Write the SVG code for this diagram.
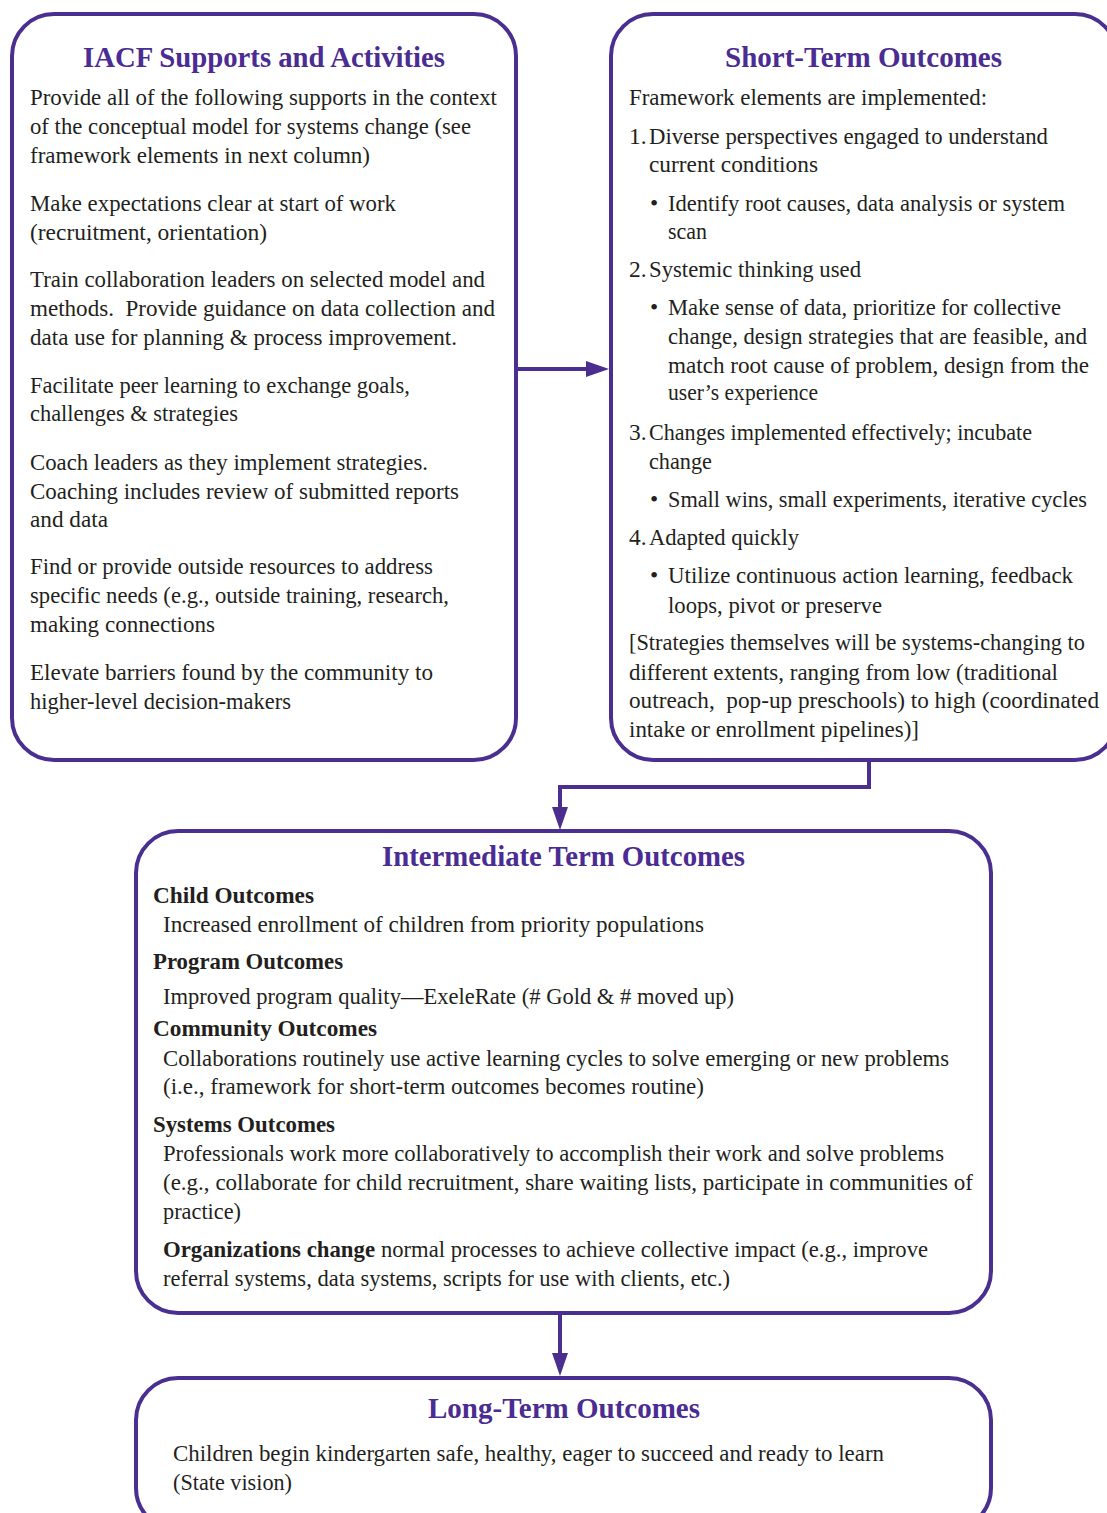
<svg xmlns="http://www.w3.org/2000/svg" width="1107" height="1513" viewBox="0 0 1107 1513">
<style>
.box{fill:#fff;stroke:#4a2f90;stroke-width:4}
.title{font-family:"Liberation Serif",serif;font-weight:bold;font-size:28.5px;fill:#4a2c92}
.t{font-family:"Liberation Serif",serif;font-size:23.5px;fill:#231f20}
.b{font-family:"Liberation Serif",serif;font-size:23.5px;font-weight:bold;fill:#231f20}
.conn{fill:none;stroke:#4a2f90;stroke-width:4}
</style>
<defs>
<marker id="ah" markerUnits="userSpaceOnUse" markerWidth="23" markerHeight="16" refX="10" refY="8" orient="auto">
<path d="M0,0 L23,8 L0,16 z" fill="#4a2f90"/>
</marker>
</defs>
<rect width="1107" height="1513" fill="#fff"/>

<g id="connectors">
<path class="conn" d="M516,369 H596" marker-end="url(#ah)"/>
<path class="conn" d="M869,760 V787 H560 V817" marker-end="url(#ah)"/>
<path class="conn" d="M560,1313 V1363" marker-end="url(#ah)"/>
</g>

<g id="iacf-supports">
<rect class="box" x="12" y="14" width="504" height="746" rx="42"/>
<text class="title" x="83" y="67" textLength="362" lengthAdjust="spacingAndGlyphs">IACF Supports and Activities</text>
<text class="t" x="30" y="105" textLength="467" lengthAdjust="spacingAndGlyphs">Provide all of the following supports in the context</text>
<text class="t" x="30" y="134" textLength="441" lengthAdjust="spacingAndGlyphs">of the conceptual model for systems change (see</text>
<text class="t" x="30" y="163" textLength="340" lengthAdjust="spacingAndGlyphs">framework elements in next column)</text>
<text class="t" x="30" y="211" textLength="366" lengthAdjust="spacingAndGlyphs">Make expectations clear at start of work</text>
<text class="t" x="30" y="240" textLength="237" lengthAdjust="spacingAndGlyphs">(recruitment, orientation)</text>
<text class="t" x="30" y="287" textLength="455" lengthAdjust="spacingAndGlyphs">Train collaboration leaders on selected model and</text>
<text class="t" x="30" y="316" textLength="465" lengthAdjust="spacingAndGlyphs">methods.&#160; Provide guidance on data collection and</text>
<text class="t" x="30" y="345" textLength="427" lengthAdjust="spacingAndGlyphs">data use for planning &amp; process improvement.</text>
<text class="t" x="30" y="393" textLength="380" lengthAdjust="spacingAndGlyphs">Facilitate peer learning to exchange goals,</text>
<text class="t" x="30" y="421" textLength="208" lengthAdjust="spacingAndGlyphs">challenges &amp; strategies</text>
<text class="t" x="30" y="470" textLength="398" lengthAdjust="spacingAndGlyphs">Coach leaders as they implement strategies.</text>
<text class="t" x="30" y="499" textLength="429" lengthAdjust="spacingAndGlyphs">Coaching includes review of submitted reports</text>
<text class="t" x="30" y="527" textLength="78" lengthAdjust="spacingAndGlyphs">and data</text>
<text class="t" x="30" y="574" textLength="403" lengthAdjust="spacingAndGlyphs">Find or provide outside resources to address</text>
<text class="t" x="30" y="603" textLength="419" lengthAdjust="spacingAndGlyphs">specific needs (e.g., outside training, research,</text>
<text class="t" x="30" y="632" textLength="185" lengthAdjust="spacingAndGlyphs">making connections</text>
<text class="t" x="30" y="680" textLength="403" lengthAdjust="spacingAndGlyphs">Elevate barriers found by the community to</text>
<text class="t" x="30" y="709" textLength="261" lengthAdjust="spacingAndGlyphs">higher-level decision-makers</text>
</g>

<g id="short-term-outcomes">
<rect class="box" x="611" y="14" width="506" height="746" rx="42"/>
<text class="title" x="725" y="67" textLength="277" lengthAdjust="spacingAndGlyphs">Short-Term Outcomes</text>
<text class="t" x="629" y="105" textLength="358" lengthAdjust="spacingAndGlyphs">Framework elements are implemented:</text>
<text class="t" x="629" y="144">1.</text>
<text class="t" x="649" y="144" textLength="399" lengthAdjust="spacingAndGlyphs">Diverse perspectives engaged to understand</text>
<text class="t" x="649" y="172" textLength="169" lengthAdjust="spacingAndGlyphs">current conditions</text>
<text class="t" x="650" y="211">•</text>
<text class="t" x="668" y="211" textLength="397" lengthAdjust="spacingAndGlyphs">Identify root causes, data analysis or system</text>
<text class="t" x="668" y="239" textLength="39" lengthAdjust="spacingAndGlyphs">scan</text>
<text class="t" x="629" y="277">2.</text>
<text class="t" x="649" y="277" textLength="212" lengthAdjust="spacingAndGlyphs">Systemic thinking used</text>
<text class="t" x="650" y="315">•</text>
<text class="t" x="668" y="315" textLength="393" lengthAdjust="spacingAndGlyphs">Make sense of data, prioritize for collective</text>
<text class="t" x="668" y="344" textLength="419" lengthAdjust="spacingAndGlyphs">change, design strategies that are feasible, and</text>
<text class="t" x="668" y="373" textLength="421" lengthAdjust="spacingAndGlyphs">match root cause of problem, design from the</text>
<text class="t" x="668" y="400" textLength="150" lengthAdjust="spacingAndGlyphs">user’s experience</text>
<text class="t" x="629" y="440">3.</text>
<text class="t" x="649" y="440" textLength="383" lengthAdjust="spacingAndGlyphs">Changes implemented effectively; incubate</text>
<text class="t" x="649" y="469" textLength="63" lengthAdjust="spacingAndGlyphs">change</text>
<text class="t" x="650" y="507">•</text>
<text class="t" x="668" y="507" textLength="419" lengthAdjust="spacingAndGlyphs">Small wins, small experiments, iterative cycles</text>
<text class="t" x="629" y="545">4.</text>
<text class="t" x="649" y="545" textLength="150" lengthAdjust="spacingAndGlyphs">Adapted quickly</text>
<text class="t" x="650" y="583">•</text>
<text class="t" x="668" y="583" textLength="405" lengthAdjust="spacingAndGlyphs">Utilize continuous action learning, feedback</text>
<text class="t" x="668" y="613" textLength="214" lengthAdjust="spacingAndGlyphs">loops, pivot or preserve</text>
<text class="t" x="629" y="650" textLength="456" lengthAdjust="spacingAndGlyphs">[Strategies themselves will be systems-changing to</text>
<text class="t" x="629" y="680" textLength="429" lengthAdjust="spacingAndGlyphs">different extents, ranging from low (traditional</text>
<text class="t" x="629" y="708" textLength="470" lengthAdjust="spacingAndGlyphs">outreach,&#160; pop-up preschools) to high (coordinated</text>
<text class="t" x="629" y="737" textLength="290" lengthAdjust="spacingAndGlyphs">intake or enrollment pipelines)]</text>
</g>

<g id="intermediate-outcomes">
<rect class="box" x="136" y="831" width="855" height="482" rx="42"/>
<text class="title" x="382" y="866" textLength="363" lengthAdjust="spacingAndGlyphs">Intermediate Term Outcomes</text>
<text class="b" x="153" y="903" textLength="161" lengthAdjust="spacingAndGlyphs">Child Outcomes</text>
<text class="t" x="163" y="932" textLength="541" lengthAdjust="spacingAndGlyphs">Increased enrollment of children from priority populations</text>
<text class="b" x="153" y="969" textLength="190" lengthAdjust="spacingAndGlyphs">Program Outcomes</text>
<text class="t" x="163" y="1004" textLength="571" lengthAdjust="spacingAndGlyphs">Improved program quality—ExeleRate (# Gold &amp; # moved up)</text>
<text class="b" x="153" y="1036" textLength="224" lengthAdjust="spacingAndGlyphs">Community Outcomes</text>
<text class="t" x="163" y="1066" textLength="786" lengthAdjust="spacingAndGlyphs">Collaborations routinely use active learning cycles to solve emerging or new problems</text>
<text class="t" x="163" y="1094" textLength="541" lengthAdjust="spacingAndGlyphs">(i.e., framework for short-term outcomes becomes routine)</text>
<text class="b" x="153" y="1132" textLength="182" lengthAdjust="spacingAndGlyphs">Systems Outcomes</text>
<text class="t" x="163" y="1161" textLength="781" lengthAdjust="spacingAndGlyphs">Professionals work more collaboratively to accomplish their work and solve problems</text>
<text class="t" x="163" y="1190" textLength="810" lengthAdjust="spacingAndGlyphs">(e.g., collaborate for child recruitment, share waiting lists, participate in communities of</text>
<text class="t" x="163" y="1219" textLength="78" lengthAdjust="spacingAndGlyphs">practice)</text>
<text class="b" x="163" y="1257" textLength="212" lengthAdjust="spacingAndGlyphs">Organizations change</text>
<text class="t" x="381" y="1257" textLength="547" lengthAdjust="spacingAndGlyphs">normal processes to achieve collective impact (e.g., improve</text>
<text class="t" x="163" y="1286" textLength="567" lengthAdjust="spacingAndGlyphs">referral systems, data systems, scripts for use with clients, etc.)</text>
</g>

<g id="long-term-outcomes">
<rect class="box" x="136" y="1378" width="855" height="152" rx="42"/>
<text class="title" x="428" y="1418" textLength="272" lengthAdjust="spacingAndGlyphs">Long-Term Outcomes</text>
<text class="t" x="173" y="1461" textLength="711" lengthAdjust="spacingAndGlyphs">Children begin kindergarten safe, healthy, eager to succeed and ready to learn</text>
<text class="t" x="173" y="1490" textLength="119" lengthAdjust="spacingAndGlyphs">(State vision)</text>
</g>
</svg>
